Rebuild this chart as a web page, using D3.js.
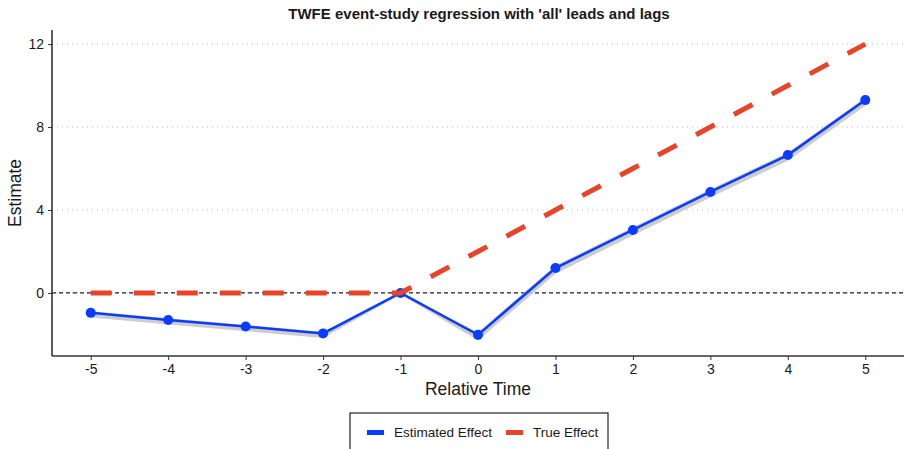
<!DOCTYPE html>
<html>
<head>
<meta charset="utf-8">
<script src="https://cdn.jsdelivr.net/npm/d3@7"></script>
<style>
  body { margin:0; background:#fff; font-family:"Liberation Sans", Arial, Helvetica, sans-serif; }
  svg text { fill:#1a1a1a; }
</style>
</head>
<body>
<div id="chart"></div>
<script>
// values
var relTime   = [-5, -4, -3, -2, -1, 0, 1, 2, 3, 4, 5];
var estimated = [-0.96, -1.3, -1.62, -1.95, 0, -2.02, 1.2, 3.04, 4.87, 6.65, 9.3];
var trueEff   = [0, 0, 0, 0, 0, 2, 4, 6, 8, 10, 12];
var ciHalf    = [0.15, 0.15, 0.15, 0.15, 0, 0.2, 0.2, 0.2, 0.2, 0.2, 0.2];
var yTicks    = [0, 4, 8, 12];

var W = 904, H = 449;
var margin = {top:30, right:0, bottom:93, left:52};
var width = W - margin.left - margin.right,
    height = H - margin.top - margin.bottom;

var svg = d3.select("#chart").append("svg")
  .attr("width", W).attr("height", H);

var g = svg.append("g")
  .attr("transform", "translate(" + margin.left + "," + margin.top + ")");

var x = d3.scaleLinear().domain([-5.5, 5.5]).range([0, width]);
var y = d3.scaleLinear().domain([-3.04, 12.68]).range([height, 0]);

var data = relTime.map(function(t, i) {
  return {t:t, est:estimated[i], tru:trueEff[i], ci:ciHalf[i]};
});

// grid
g.selectAll(".grid").data(yTicks).enter().append("line")
  .attr("x1", 0).attr("x2", width)
  .attr("y1", function(d){return y(d)}).attr("y2", function(d){return y(d)})
  .attr("stroke", "#bbb").attr("stroke-width", 1)
  .attr("stroke-dasharray", "1,4");

// zero line
g.append("line")
  .attr("x1", 0).attr("x2", width)
  .attr("y1", y(0)).attr("y2", y(0))
  .attr("stroke", "#222").attr("stroke-width", 1.2)
  .attr("stroke-dasharray", "4,3");

// ribbon
var area = d3.area()
  .x(function(d){return x(d.t)})
  .y0(function(d){return y(d.est - d.ci) + 1.5})
  .y1(function(d){return y(d.est + d.ci) + 1.5});
g.append("path").datum(data)
  .attr("d", area).attr("fill", "#c8c8c8").attr("opacity", 0.9);

// estimated line
var estLine = d3.line().x(function(d){return x(d.t)}).y(function(d){return y(d.est)});
g.append("path").datum(data)
  .attr("d", estLine).attr("fill", "none")
  .attr("stroke", "#0a3cff").attr("stroke-width", 2.5);

g.selectAll(".pt").data(data).enter().append("circle")
  .attr("cx", function(d){return x(d.t)})
  .attr("cy", function(d){return y(d.est)})
  .attr("r", 5).attr("fill", "#0a3cff");

// true effect
var truLine = d3.line().x(function(d){return x(d.t)}).y(function(d){return y(d.tru)});
g.append("path").datum(data)
  .attr("d", truLine).attr("fill", "none")
  .attr("stroke", "#e8442a").attr("stroke-width", 5)
  .attr("stroke-dasharray", "21,22");

// axes
var xAxis = d3.axisBottom(x).tickValues(relTime).tickSize(4).tickPadding(4)
  .tickFormat(function(d){return String(d)});
var yAxis = d3.axisLeft(y).tickValues(yTicks).tickSize(4).tickPadding(4);

var gx = g.append("g").attr("transform", "translate(0," + height + ")").call(xAxis);
var gy = g.append("g").call(yAxis);
[gx, gy].forEach(function(a){
  a.select(".domain").attr("stroke", "#333").attr("stroke-width", 1.6);
  a.selectAll(".tick line").attr("stroke", "#333");
  a.selectAll("text").attr("font-size", 14).attr("fill", "#1a1a1a")
    .attr("font-family", "Liberation Sans, Arial, sans-serif");
});
gx.select(".domain").attr("d", "M0,0H" + width);
gy.select(".domain").attr("d", "M0,0V" + height);

// title and labels
svg.append("text").attr("x", 479).attr("y", 19)
  .attr("text-anchor", "middle").attr("font-size", 15).attr("font-weight", "bold")
  .text("TWFE event-study regression with 'all' leads and lags");

svg.append("text").attr("x", 478).attr("y", 395)
  .attr("text-anchor", "middle").attr("font-size", 17.5)
  .text("Relative Time");

svg.append("text")
  .attr("transform", "translate(21," + (margin.top + height/2) + ") rotate(-90)")
  .attr("text-anchor", "middle").attr("font-size", 17.5)
  .text("Estimate");

// legend
var leg = svg.append("g").attr("transform", "translate(350,413)");
leg.append("rect").attr("x", 0).attr("y", 0).attr("width", 258).attr("height", 40)
  .attr("fill", "#fff").attr("stroke", "#222").attr("stroke-width", 1.2);
var items = [
  {label:"Estimated Effect", color:"#0a3cff", x:17},
  {label:"True Effect", color:"#e8442a", x:156}
];
items.forEach(function(it){
  leg.append("rect").attr("x", it.x).attr("y", 17).attr("width", 17).attr("height", 5)
    .attr("fill", it.color);
  leg.append("text").attr("x", it.x + 27).attr("y", 24)
    .attr("font-size", 13.5).text(it.label);
});
</script>
</body>
</html>
